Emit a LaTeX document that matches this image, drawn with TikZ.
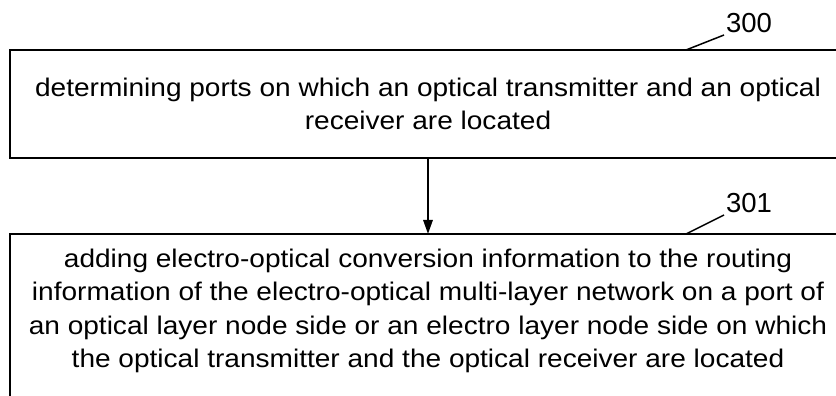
\documentclass[tikz,border=0pt]{standalone}
\usepackage{fontspec}
\setmainfont{Liberation Sans}[FakeStretch=1.1]
\newfontfamily\numfont{Liberation Sans}
\usetikzlibrary{
  arrows.meta,
  positioning,
  calc
}
\tikzset{
  stepbox/.style={minimum width=501.6pt, outer sep=0pt,
    align=center, inner sep=0pt,
    font=\fontsize{15.3}{20}\selectfont},
  boxline/.style={line width=1.2pt},
  numlabel/.style={font=\numfont\fontsize{16.5}{18}\selectfont, inner sep=1pt},
  leader/.style={line width=0.9pt},
  arr/.style={-{Triangle[length=8.4pt, width=5.6pt]}, line width=1.2pt},
}

\begin{document}
\begin{tikzpicture}
  \useasboundingbox (0,0) rectangle (501.6pt,-237.6pt);
  \clip (0,0) rectangle (501.6pt,-237.6pt);

  % Step 300
  \node[stepbox, minimum height=64.8pt, anchor=north west] (box1)
    at (6pt,-30pt)
    {determining ports on which an optical transmitter and an optical\\
     receiver are located};

  % Step 301
  \node[stepbox, minimum height=105pt, text depth=16pt,
        below=45.6pt of box1] (box2)
    {adding electro-optical conversion information to the routing\\
     information of the electro-optical multi-layer network on a port of\\
     an optical layer node side or an electro layer node side on which\\
     the optical transmitter and the optical receiver are located};

  % box outlines (right side runs off the page)
  \draw[boxline] ([xshift=20pt]box1.north east) -- (box1.north west)
    -- (box1.south west) -- ([xshift=20pt]box1.south east);
  \draw[boxline] ([xshift=20pt]box2.north east) -- (box2.north west)
    -- ([yshift=-20pt]box2.south west);

  % Reference numerals
  \coordinate (t300) at ([xshift=-96pt]box1.north east);
  \node[numlabel, anchor=south west] (n300) at ($(t300)+(22.8pt,9pt)$) {300};
  \draw[leader] (t300) -- (n300.south west);

  \coordinate (t301) at ([xshift=-96pt]box2.north east);
  \node[numlabel, anchor=south west] (n301) at ($(t301)+(22.8pt,11.4pt)$) {301};
  \draw[leader] (t301) -- (n301.south west);

  \draw[arr] (box1.south) -- (box2.north);
\end{tikzpicture}
\end{document}
